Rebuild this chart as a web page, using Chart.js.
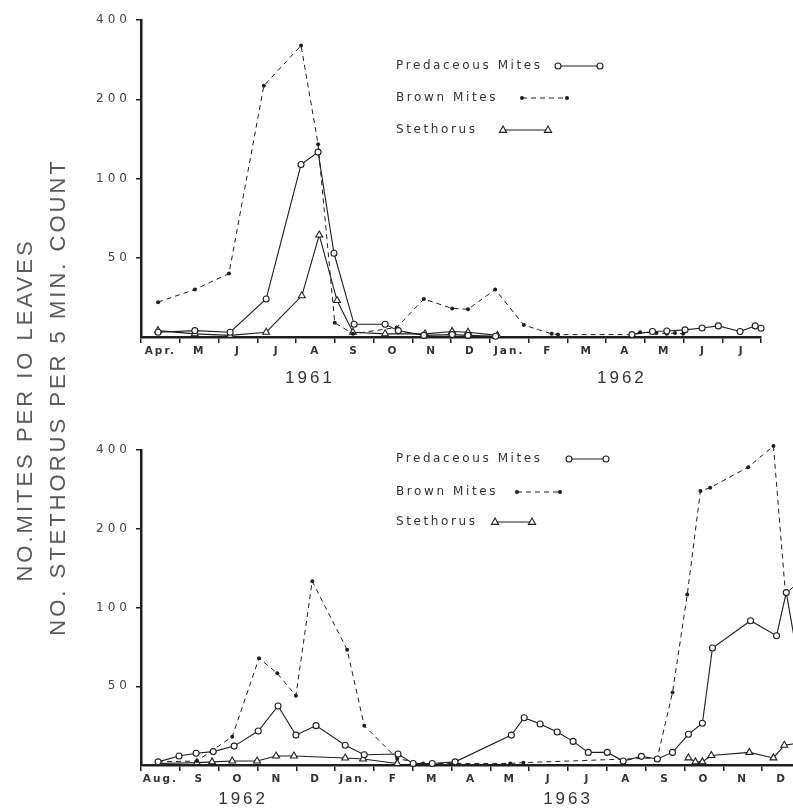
<!DOCTYPE html>
<html>
<head>
<meta charset="utf-8">
<script src="https://cdn.jsdelivr.net/npm/chart.js@4"></script>
<style>
  html, body { margin: 0; padding: 0; background: #fff; overflow: hidden; }
  #page { position: relative; width: 793px; height: 808px; overflow: hidden; }
  canvas { position: absolute; left: 0; }
  #c1 { top: 0; }
  #c2 { top: 420px; }
  .ytitle {
    position: absolute; white-space: nowrap;
    font-family: "Liberation Sans", Arial, sans-serif; font-size: 22px;
    letter-spacing: 3px; color: #5a5a5a; line-height: 1;
    transform: translate(-50%, -50%) rotate(-90deg);
  }
</style>
</head>
<body>
<div id="page">
  <canvas id="c1" width="793" height="389"></canvas>
  <canvas id="c2" width="830" height="397"></canvas>
  <div class="ytitle" style="left:25px; top:410px;">NO.MITES PER IO LEAVES</div>
  <div class="ytitle" style="left:58px; top:397px;">NO. STETHORUS PER 5 MIN. COUNT</div>
</div>
<script>
// month labels (one per month, label sits in the middle of the month)
const topMonths = ['Apr.', 'M', 'J', 'J', 'A', 'S', 'O', 'N', 'D', 'Jan.', 'F', 'M', 'A', 'M', 'J', 'J'];
const botMonths = ['Aug.', 'S', 'O', 'N', 'D', 'Jan.', 'F', 'M', 'A', 'M', 'J', 'J', 'A', 'S', 'O', 'N', 'D'];
const topYears = ['1961', '1962'];
const topYearAt = [4.36, 12.41];
const botYears = ['1962', '1963'];
const botYearAt = [2.63, 11.0];
const yTickValues = [50, 100, 200, 400];

// [month since start of axis, value]
const topPredaceous = [[0.44, 3], [1.39, 4], [2.30, 3], [3.23, 24], [4.13, 113], [4.57, 126], [4.98, 52], [5.50, 8], [6.30, 8], [6.64, 4],
  [7.30, 1], [8.03, 1.5], [8.44, 1], [9.15, 0.5], [11.5, null],
  [12.67, 1.5], [13.2, 3.5], [13.57, 3.8], [14.04, 4.5], [14.48, 5.7], [14.9, 7], [15.46, 3.5], [15.85, 7], [16, 5.5]];
const topBrown = [[0.44, 22], [1.39, 30], [2.27, 40], [3.17, 225], [4.13, 320], [4.57, 135], [5.0, 9], [5.47, 2], [6.6, 6],
  [7.3, 24], [8.03, 18], [8.44, 17.5], [9.14, 30], [9.88, 7.5], [10.6, 2], [10.76, 1.5], [12.67, 1.5], [12.88, 3],
  [13.3, 2.5], [13.57, 2], [13.78, 2.5], [13.99, 2]];
const topStethorus = [[0.44, 4], [1.39, 2], [2.30, 1], [3.23, 3], [4.15, 26], [4.6, 61], [5.06, 23], [5.47, 3], [6.3, 2],
  [7.33, 2], [8.03, 3.5], [8.44, 3], [9.2, 1]];

const botPredaceous = [[0.44, 2], [0.98, 5.7], [1.42, 7.5], [1.86, 8.5], [2.40, 12], [3.02, 21.6], [3.53, 37.5], [3.99, 19],
  [4.51, 25], [5.26, 12.5], [5.75, 6.5], [6.62, 7], [7.01, 1], [7.5, 1], [8.09, 2], [9.54, 19], [9.87, 30], [10.28, 26],
  [10.72, 21], [11.13, 15], [11.52, 8], [12.01, 8], [12.42, 2.5], [12.89, 5.5], [13.3, 3.8], [13.69, 8], [14.1, 19.5],
  [14.46, 26.5], [14.72, 70], [15.7, 89], [16.37, 78], [16.62, 114], [16.95, 60]];
const botBrown = [[0.44, 2], [1.44, 2.5], [2.35, 18], [3.04, 64], [3.51, 56], [3.99, 44], [4.41, 126], [5.31, 69], [5.75, 25],
  [6.6, 4], [7.27, 1], [8.04, 1], [9.51, 1], [9.85, 1.5], [13.3, 4.5], [13.69, 46], [14.07, 112], [14.41, 279], [14.66, 287],
  [15.64, 344], [16.29, 414], [16.6, 113], [16.95, 125]];
const botStethorus = [[0.44, 1], [1.44, 1.5], [1.83, 2], [2.35, 2.5], [2.99, 2.5], [3.48, 5.7], [3.94, 5.7], [5.26, 4.4],
  [5.72, 3.8], [6.6, 1], [10, null], [14.1, 4.5], [14.28, 2], [14.46, 2], [14.69, 6], [15.67, 8], [16.29, 4.5], [16.57, 12.5], [16.95, 14]];

const ink = '#1e1e1e';
const textInk = '#333';

// axis is linear 0-50, then doubling per step up to 400
function sc(v) { return v <= 50 ? v / 50 : 1 + Math.log2(v / 50); }
function pts(arr) { return arr.map(([m, v]) => ({ x: m, y: v == null ? null : sc(v) })); }

function spaced(px) {
  return function (scale) {
    if (scale._spaced) return;
    scale._spaced = true;
    const draw = scale.drawLabels;
    scale.drawLabels = function (area) {
      this.ctx.save();
      this.ctx.letterSpacing = px + 'px';
      draw.call(this, area);
      this.ctx.restore();
    };
  };
}

function datasets(pred, brown, steth) {
  return [
    { label: 'Predaceous Mites', data: pts(pred), borderColor: ink, borderWidth: 1.1, pointStyle: 'circle', pointRadius: 3,
      pointBackgroundColor: '#fff', pointBorderColor: ink, pointBorderWidth: 1.1 },
    { label: 'Brown Mites', data: pts(brown), borderColor: ink, borderWidth: 1, borderDash: [5, 4], pointStyle: 'circle',
      pointRadius: 2, pointBackgroundColor: ink, pointBorderColor: ink, pointBorderWidth: 0 },
    { label: 'Stethorus', data: pts(steth), borderColor: ink, borderWidth: 1.1, pointStyle: 'triangle', pointRadius: 4,
      pointBackgroundColor: '#fff', pointBorderColor: ink, pointBorderWidth: 1.1 }
  ];
}

// legend: text first, then a short sample line with a marker at each end
const sampleLegend = {
  id: 'sampleLegend',
  afterDraw(chart, args, opts) {
    const ctx = chart.ctx;
    ctx.save();
    ctx.font = '12px "DejaVu Sans"';
    ctx.letterSpacing = '2.6px';
    ctx.textBaseline = 'middle';
    ctx.fillStyle = textInk;
    opts.items.forEach((it, i) => {
      const ds = chart.data.datasets[i];
      ctx.fillText(ds.label, opts.x, it.y);
      ctx.strokeStyle = ink;
      ctx.lineWidth = 1.1;
      ctx.setLineDash(ds.borderDash || []);
      ctx.beginPath();
      ctx.moveTo(it.x1, it.y);
      ctx.lineTo(it.x2, it.y);
      ctx.stroke();
      ctx.setLineDash([]);
      [it.x1, it.x2].forEach(px => {
        ctx.beginPath();
        if (ds.pointStyle === 'triangle') {
          const r = 4;
          ctx.moveTo(px, it.y - r);
          ctx.lineTo(px + r * 0.9, it.y + r * 0.6);
          ctx.lineTo(px - r * 0.9, it.y + r * 0.6);
          ctx.closePath();
        } else {
          ctx.arc(px, it.y, ds.pointRadius, 0, Math.PI * 2);
        }
        ctx.fillStyle = ds.pointBackgroundColor;
        ctx.fill();
        if (ds.pointBorderWidth) ctx.stroke();
      });
      ctx.fillStyle = textInk;
    });
    ctx.restore();
  }
};

function makeChart(id, months, years, yearAt, data, pad, legend, yearPad) {
  const n = months.length;
  return new Chart(document.getElementById(id), {
    type: 'line',
    data: { datasets: data },
    plugins: [sampleLegend],
    options: {
      responsive: false,
      animation: false,
      events: [],
      clip: false,
      layout: { padding: pad },
      plugins: { legend: { display: false }, tooltip: { enabled: false }, sampleLegend: legend },
      scales: {
        x: {
          type: 'linear', min: 0, max: n, weight: 0,
          afterBuildTicks: s => { s.ticks = months.map((m, i) => ({ value: i })).concat([{ value: n }]); },
          afterFit: s => { s.height = 24; spaced(2)(s); },
          ticks: {
            autoSkip: false, maxRotation: 0, padding: 2, labelOffset: 19.4, color: textInk,
            font: { family: '"DejaVu Sans"', size: 10.5, weight: 'bold' },
            callback: (v, i) => months[i] || ''
          },
          grid: { drawOnChartArea: false, tickLength: 6, color: ink, lineWidth: 1.5 },
          border: { color: ink, width: 2.5 }
        },
        yr: {
          type: 'linear', position: 'bottom', min: 0, max: n, weight: 1,
          afterBuildTicks: s => { s.ticks = yearAt.map(v => ({ value: v })); },
          afterFit: s => { s.height = 28; spaced(3)(s); },
          ticks: {
            autoSkip: false, maxRotation: 0, padding: yearPad, color: textInk,
            font: { family: '"Liberation Sans"', size: 17 },
            callback: (v, i) => years[i]
          },
          grid: { display: false, drawTicks: false },
          border: { display: false }
        },
        y: {
          type: 'linear', min: 0, max: 4,
          afterBuildTicks: s => { s.ticks = yTickValues.map(v => ({ value: sc(v) })); },
          afterFit: s => { s.width = 141; spaced(4)(s); },
          ticks: {
            padding: 5, color: '#444',
            font: { family: '"DejaVu Sans"', size: 12 },
            callback: (v, i) => String(yTickValues[i])
          },
          grid: { drawOnChartArea: false, tickLength: 5, color: ink, lineWidth: 1.5 },
          border: { color: ink, width: 2.5 }
        }
      }
    }
  });
}

makeChart('c1', topMonths, topYears, topYearAt, datasets(topPredaceous, topBrown, topStethorus),
  { top: 20, right: 32, bottom: 0, left: 0 },
  { x: 396, items: [{ y: 66, x1: 558, x2: 600 }, { y: 98, x1: 522, x2: 567 }, { y: 130, x1: 503, x2: 548 }] }, 7);

makeChart('c2', botMonths, botYears, botYearAt, datasets(botPredaceous, botBrown, botStethorus),
  { top: 30, right: 29, bottom: 0, left: 0 },
  { x: 396, items: [{ y: 39, x1: 569, x2: 606 }, { y: 72, x1: 517, x2: 560 }, { y: 102, x1: 495, x2: 532 }] }, 0);
</script>
</body>
</html>
